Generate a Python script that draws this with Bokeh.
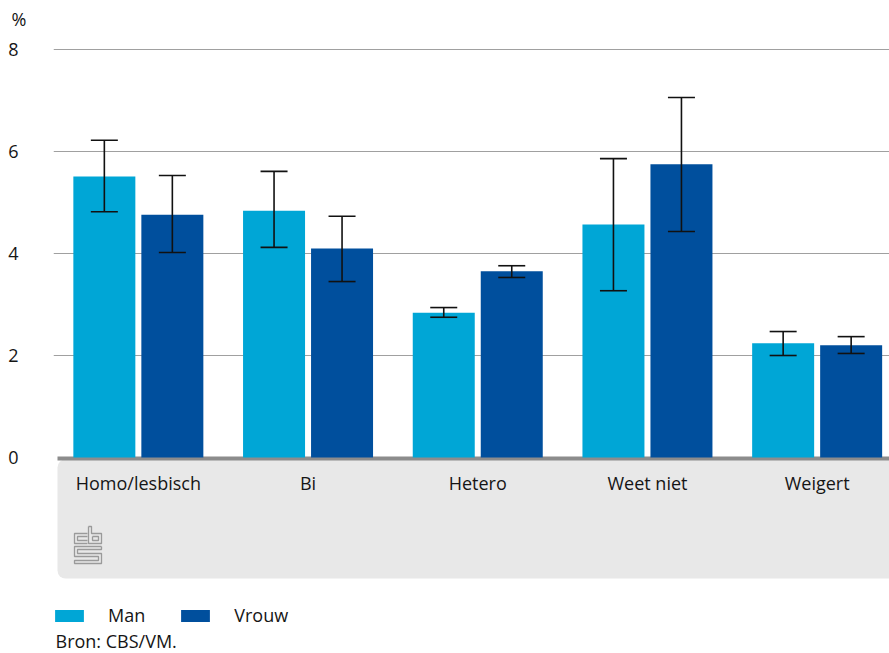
from bokeh.plotting import figure
from bokeh.models import (ColumnDataSource, Range1d, FixedTicker, Whisker, TeeHead,
                          Legend, LegendItem, Label)
from bokeh.core.properties import value
from bokeh.embed import file_html
from bokeh.resources import INLINE

# ---------------- data ----------------
categories = ["Homo/lesbisch", "Bi", "Hetero", "Weet niet", "Weigert"]
man = [5.51, 4.84, 2.84, 4.57, 2.24]
man_low = [4.82, 4.12, 2.75, 3.27, 2.00]
man_high = [6.22, 5.61, 2.94, 5.86, 2.47]
vrouw = [4.76, 4.10, 3.65, 5.75, 2.20]
vrouw_low = [4.02, 3.45, 3.53, 4.43, 2.04]
vrouw_high = [5.53, 4.73, 3.76, 7.06, 2.37]
y_ticks = [0, 2, 4, 6, 8]
series_names = ["Man", "Vrouw"]
colors = ["#00a6d6", "#004f9d"]
source_text = "Bron: CBS/VM."
unit_text = "%"

FONT = "Open Sans"
TXT = "#151515"
FS = "18px"

# ---------------- layout constants (pixels) ----------------
W, H = 889, 653
LEFT = 53           # frame left border
PX_X = 169.7        # pixels per category
PX_Y = 51.0         # pixels per percent
FRAME_TOP = 30
ZERO_PX = 457       # y=0 position from figure top
frame_w = W - LEFT
y_end = (ZERO_PX - FRAME_TOP) / PX_Y
y_start = -(H - ZERO_PX) / PX_Y
x_end = frame_w / PX_X

def px_x(px):  # px from frame left -> data
    return px / PX_X

def px_y(py):  # px below zero line -> data
    return -py / PX_Y

p = figure(width=W, height=H, output_backend="svg", toolbar_location=None,
           x_range=Range1d(0, x_end), y_range=Range1d(y_start, y_end),
           min_border_left=LEFT, min_border_right=0, min_border_bottom=0,
           min_border_top=FRAME_TOP)
p.outline_line_color = None
p.background_fill_color = "white"
p.xaxis.visible = False
p.xgrid.visible = False

# y axis
yax = p.yaxis[0]
yax.ticker = FixedTicker(ticks=y_ticks)
yax.axis_line_color = None
yax.major_tick_line_color = None
yax.minor_tick_line_color = None
yax.major_tick_out = 0
yax.major_label_standoff = 35
yax.major_label_text_font = FONT
yax.major_label_text_font_size = FS
yax.major_label_text_color = TXT
p.ygrid.ticker = FixedTicker(ticks=[t for t in y_ticks if t > 0])
p.ygrid.grid_line_color = "#a0a0a0"
p.ygrid.grid_line_width = 1

# title "%"
p.title.text = unit_text
p.title.align = "left"
p.title.offset = -42
p.title.text_font = FONT
p.title.text_font_size = FS
p.title.text_font_style = "normal"
p.title.text_color = TXT
p.title.standoff = -1

# gray label band
gx0 = px_x(4)
p.quad(left=gx0, right=x_end + 1, top=px_y(2), bottom=px_y(121), fill_color="#e8e8e8",
       line_color=None, border_radius=8)
p.segment(x0=gx0, y0=px_y(1), x1=x_end + 1, y1=px_y(1), line_color="#8c8c8c", line_width=4)

# bars
centers = [i + 0.5 for i in range(len(categories))]
off = 34 / PX_X
bw = 62 / PX_X
src_m = ColumnDataSource(dict(x=[c - off for c in centers], top=man, lower=man_low, upper=man_high))
src_v = ColumnDataSource(dict(x=[c + off for c in centers], top=vrouw, lower=vrouw_low, upper=vrouw_high))
r_m = p.vbar(x="x", top="top", bottom=0, width=bw, source=src_m, fill_color=colors[0], line_color=None)
r_v = p.vbar(x="x", top="top", bottom=0, width=bw, source=src_v, fill_color=colors[1], line_color=None)

for src in (src_m, src_v):
    w = Whisker(source=src, base="x", upper="upper", lower="lower",
                line_color="#111111", line_width=1.6, level="overlay",
                upper_head=TeeHead(size=27, line_color="#111111", line_width=1.6),
                lower_head=TeeHead(size=27, line_color="#111111", line_width=1.6))
    p.add_layout(w)

# category labels
p.text(x=centers, y=[px_y(25)] * len(categories), text=categories,
       text_align="center", text_baseline="middle", text_font=value(FONT),
       text_font_size=FS, text_color=TXT)

# CBS logo (decorative outline)
lx, ly = 21, 69  # offsets of logo origin from frame left / zero line (px)
logo_paths = [
    [(13, 7), (0, 7), (0, 17), (13, 17)],
    [(13, 10), (3, 10), (3, 14), (13, 14)],
    [(14, 0), (14, 17), (27, 17), (27, 7), (17, 7), (17, 0), (14, 0)],
    [(18, 10), (24, 10), (24, 14), (18, 14), (18, 10)],
    [(27, 20), (0, 20), (0, 30), (24, 30), (24, 34), (0, 34), (0, 37), (27, 37),
     (27, 27), (3, 27), (3, 23), (27, 23), (27, 20)],
]
p.multi_line(xs=[[px_x(lx + a) for a, b in path] for path in logo_paths],
             ys=[[px_y(ly + b) for a, b in path] for path in logo_paths],
             line_color="#9a9a9a", line_width=1.3)

# legend
legend = Legend(items=[LegendItem(label=series_names[0], renderers=[r_m]),
                       LegendItem(label=series_names[1], renderers=[r_v])],
                orientation="horizontal", location=(-2, 26),
                border_line_color=None, background_fill_alpha=0,
                padding=0, margin=0, spacing=32, glyph_width=36, glyph_height=15,
                label_standoff=21, label_height=15, label_text_font=FONT,
                label_text_font_size=FS, label_text_color=TXT,
                label_text_baseline="middle")
p.add_layout(legend)

# source
p.add_layout(Label(x=px_x(2), y=px_y(183), text=source_text, text_font=FONT,
                   text_font_size=FS, text_color=TXT, text_baseline="middle"))

open("out.html", "w").write(file_html(p, INLINE))
